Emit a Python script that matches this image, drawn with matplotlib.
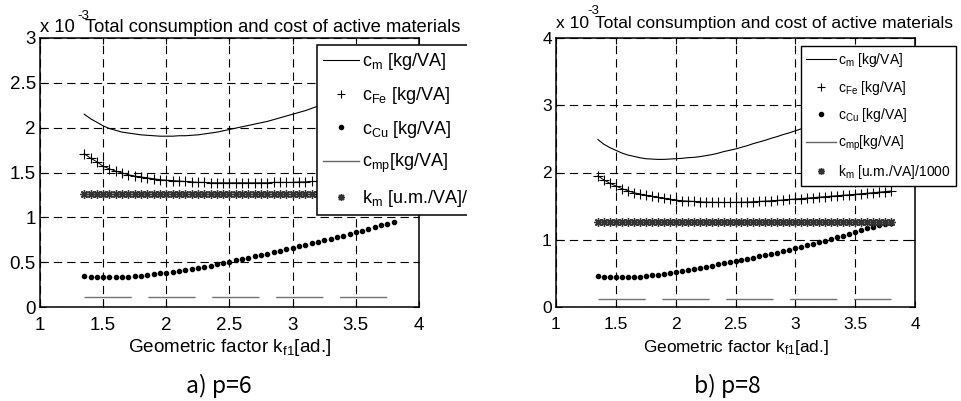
import matplotlib
matplotlib.use("Agg")
import matplotlib.pyplot as plt
from matplotlib.lines import Line2D
from matplotlib.patches import Rectangle

plt.rcParams['font.family'] = ['Liberation Sans', 'DejaVu Sans']
plt.rcParams['mathtext.fontset'] = 'custom'
plt.rcParams['mathtext.rm'] = 'Liberation Sans'
plt.rcParams['mathtext.it'] = 'Liberation Sans:italic'
plt.rcParams['mathtext.bf'] = 'Liberation Sans:bold'

# ---------------- data (values in 1e-3 units) ----------------
kf1 = [1.35, 1.40, 1.45, 1.50, 1.55, 1.60, 1.65, 1.70, 1.75, 1.80,
       1.85, 1.90, 1.95, 2.00, 2.05, 2.10, 2.15, 2.20, 2.25, 2.30,
       2.35, 2.40, 2.45, 2.50, 2.55, 2.60, 2.65, 2.70, 2.75, 2.80,
       2.85, 2.90, 2.95, 3.00, 3.05, 3.10, 3.15, 3.20, 3.25, 3.30,
       3.35, 3.40, 3.45, 3.50, 3.55, 3.60, 3.65, 3.70, 3.75, 3.80]

# p = 6
cm_p6 = [2.15, 2.10, 2.06, 2.02, 1.99, 1.97, 1.95, 1.94, 1.93, 1.92,
         1.915, 1.91, 1.905, 1.905, 1.905, 1.91, 1.91, 1.915, 1.92, 1.93,
         1.94, 1.95, 1.965, 1.98, 1.995, 2.01, 2.025, 2.04, 2.055, 2.07,
         2.09, 2.11, 2.13, 2.15, 2.17, 2.19, 2.215, 2.24, 2.26, 2.28,
         2.30, 2.33, 2.35, 2.37, 2.40, 2.42, 2.44, 2.47, 2.49, 2.52]
cfe_p6 = [1.71, 1.66, 1.62, 1.57, 1.54, 1.515, 1.495, 1.475, 1.46, 1.45,
          1.44, 1.43, 1.42, 1.415, 1.41, 1.405, 1.40, 1.395, 1.39, 1.39,
          1.385, 1.385, 1.385, 1.385, 1.385, 1.385, 1.385, 1.385, 1.385, 1.385,
          1.39, 1.39, 1.39, 1.39, 1.395, 1.395, 1.40, 1.40, 1.405, 1.41,
          1.41, 1.415, 1.42, 1.425, 1.43, 1.435, 1.44, 1.445, 1.45, 1.455]
ccu_p6 = [0.345, 0.335, 0.33, 0.33, 0.33, 0.33, 0.335, 0.34, 0.345, 0.35,
          0.36, 0.365, 0.375, 0.383, 0.39, 0.40, 0.41, 0.42, 0.435, 0.445,
          0.46, 0.475, 0.49, 0.505, 0.52, 0.535, 0.55, 0.565, 0.58, 0.595,
          0.61, 0.63, 0.645, 0.661, 0.678, 0.695, 0.71, 0.728, 0.745, 0.763,
          0.78, 0.797, 0.815, 0.833, 0.852, 0.872, 0.89, 0.91, 0.93, 0.951]
cmp_p6 = [0.11] * len(kf1)
km_p6 = [1.26] * len(kf1)

# p = 8
cm_p8 = [2.49, 2.42, 2.37, 2.33, 2.29, 2.26, 2.24, 2.22, 2.205, 2.20,
         2.195, 2.195, 2.20, 2.205, 2.21, 2.22, 2.225, 2.235, 2.25, 2.265,
         2.285, 2.31, 2.33, 2.35, 2.375, 2.40, 2.43, 2.455, 2.48, 2.51,
         2.535, 2.565, 2.59, 2.62, 2.65, 2.68, 2.71, 2.74, 2.77, 2.80,
         2.835, 2.87, 2.90, 2.935, 2.97, 3.005, 3.04, 3.075, 3.11, 3.145]
cfe_p8 = [1.95, 1.89, 1.84, 1.80, 1.76, 1.73, 1.70, 1.68, 1.66, 1.645,
          1.63, 1.615, 1.60, 1.59, 1.58, 1.575, 1.57, 1.565, 1.56, 1.558,
          1.556, 1.555, 1.555, 1.556, 1.558, 1.56, 1.565, 1.57, 1.575, 1.58,
          1.585, 1.592, 1.599, 1.606, 1.613, 1.62, 1.627, 1.634, 1.641, 1.648,
          1.655, 1.662, 1.669, 1.676, 1.684, 1.692, 1.70, 1.708, 1.716, 1.725]
ccu_p8 = [0.46, 0.445, 0.44, 0.44, 0.44, 0.44, 0.445, 0.45, 0.46, 0.47,
          0.48, 0.495, 0.51, 0.525, 0.54, 0.555, 0.57, 0.585, 0.60, 0.617,
          0.633, 0.65, 0.667, 0.684, 0.70, 0.718, 0.736, 0.754, 0.772, 0.79,
          0.81, 0.83, 0.851, 0.873, 0.895, 0.918, 0.941, 0.964, 0.988, 1.012,
          1.037, 1.062, 1.09, 1.12, 1.145, 1.17, 1.195, 1.22, 1.237, 1.254]
cmp_p8 = [0.12] * len(kf1)
km_p8 = [1.26] * len(kf1)

xticks = [1, 1.5, 2, 2.5, 3, 3.5, 4]
xticklabels = ['1', '1.5', '2', '2.5', '3', '3.5', '4']
yticks_p6 = [0, 0.5, 1, 1.5, 2, 2.5, 3]
yticklabels_p6 = ['0', '0.5', '1', '1.5', '2', '2.5', '3']
yticks_p8 = [0, 1, 2, 3, 4]
yticklabels_p8 = ['0', '1', '2', '3', '4']

labels_p6 = [r'c$_{\mathrm{m}}$ [kg/VA]', r'c$_{\mathrm{Fe}}$ [kg/VA]',
             r'c$_{\mathrm{Cu}}$ [kg/VA]', r'c$_{\mathrm{mp}}$[kg/VA]',
             r'k$_{\mathrm{m}}$ [u.m./VA]/1000']
labels_p8 = [r'c$_{\mathrm{m}}$ [kg/VA]', r'c$_{\mathrm{Fe}}$ [kg/VA]',
             r'c$_{\mathrm{Cu}}$ [kg/VA]', r'c$_{\mathrm{mp}}$[kg/VA]',
             r'k$_{\mathrm{m}}$ [u.m./VA]/1000']

title = 'Total consumption and cost of active materials'
xlabel = r'Geometric factor k$_{\mathrm{f1}}$[ad.]'

# ---------------- figure ----------------
W, H = 962, 401
fig = plt.figure(figsize=(W / 100, H / 100), dpi=100)
fig.patch.set_facecolor('white')


def fx(x):
    return x / W


def fy(y):
    return 1 - y / H


GRID_DASH = (0, (7.5, 4.5))
CMP_DASH = (0, (34, 12))
KM_MARKER = (8, 2, 0)


def panel(rect, ymax, yticks, yticklabels, cm, cfe, ccu, cmp_, km, tick_fs):
    ax = fig.add_axes(rect)
    ax.set_xlim(1, 4)
    ax.set_ylim(0, ymax)
    ax.set_xticks(xticks)
    ax.set_xticklabels(xticklabels, fontsize=tick_fs)
    ax.set_yticks(yticks)
    ax.set_yticklabels(yticklabels, fontsize=tick_fs)
    ax.tick_params(direction='in', top=True, right=True, length=4, width=0.8)
    ax.tick_params(axis='x', pad=7)
    ax.tick_params(axis='y', pad=3)
    for s in ax.spines.values():
        s.set_linewidth(1.1)
        s.set_color('black')
    ax.set_axisbelow(True)
    ax.grid(True, color='black', linestyle=GRID_DASH, linewidth=0.8)

    ax.plot(kf1, cmp_, color='0.45', linestyle=CMP_DASH, linewidth=1.0)
    ax.plot(kf1, ccu, linestyle='none', marker='o', markersize=3,
            color='black')
    ax.plot(kf1, km, linestyle='none', marker=KM_MARKER, markersize=6,
            markeredgewidth=1.0, color='0.2')
    ax.plot(kf1, cfe, color='black', linewidth=0.7, marker='+',
            markersize=6.5, markeredgewidth=0.8)
    ax.plot(kf1, cm, color='black', linewidth=0.8)
    return ax


def legend_handles():
    return [
        Line2D([], [], color='black', linewidth=0.8),
        Line2D([], [], color='black', linestyle='none', marker='+',
               markersize=6, markeredgewidth=0.8),
        Line2D([], [], color='black', linestyle='none', marker='o',
               markersize=3),
        Line2D([], [], color='0.4', linewidth=1.0),
        Line2D([], [], color='0.2', linestyle='none', marker=KM_MARKER,
               markersize=5, markeredgewidth=1.0),
    ]


def style_legend(leg, lw):
    frame = leg.get_frame()
    frame.set_edgecolor('black')
    frame.set_facecolor('white')
    frame.set_alpha(1.0)
    frame.set_linewidth(lw)


# a) p = 6
ax1 = panel([fx(40), fy(307), 379 / W, 269 / H], 3, yticks_p6, yticklabels_p6,
            cm_p6, cfe_p6, ccu_p6, cmp_p6, km_p6, 13.5)
leg1 = ax1.legend(legend_handles(), labels_p6, loc='upper left',
                  bbox_to_anchor=(fx(317), fy(45)),
                  bbox_transform=fig.transFigure, fontsize=13,
                  frameon=True, fancybox=False, framealpha=1.0,
                  borderaxespad=0, borderpad=0.35, labelspacing=0.7,
                  handlelength=1.95, handletextpad=0.2)
style_legend(leg1, 1.1)

# b) p = 8
ax2 = panel([fx(556), fy(307), 359 / W, 269 / H], 4, yticks_p8, yticklabels_p8,
            cm_p8, cfe_p8, ccu_p8, cmp_p8, km_p8, 12.5)
leg2 = ax2.legend(legend_handles(), labels_p8, loc='upper left',
                  bbox_to_anchor=(fx(801), fy(46)),
                  bbox_transform=fig.transFigure, fontsize=10,
                  frameon=True, fancybox=False, framealpha=1.0,
                  borderaxespad=0, borderpad=0.35, labelspacing=0.7,
                  handlelength=2.2, handletextpad=0.15)
style_legend(leg2, 1.0)

# the left panel is trimmed at its right edge
fig.add_artist(Rectangle((fx(467), fy(240)), 72 / W, (240 - 36) / H,
                         transform=fig.transFigure, facecolor='white',
                         edgecolor='none', zorder=10))

# exponent labels and titles
fig.text(fx(40), fy(32), 'x 10', fontsize=13.2, va='baseline')
fig.text(fx(77), fy(19), '-3', fontsize=9.5, va='baseline')
fig.text(fx(85), fy(32), title, fontsize=13.2, va='baseline')

fig.text(fx(556), fy(28), 'x 10', fontsize=12.6, va='baseline')
fig.text(fx(587), fy(14), '-3', fontsize=9.5, va='baseline')
fig.text(fx(595), fy(28), title, fontsize=12.6, va='baseline')

# axis labels
fig.text(fx(229.5), fy(352), xlabel, fontsize=13.6, ha='center',
         va='baseline')
fig.text(fx(735.5), fy(352), xlabel, fontsize=12.4, ha='center',
         va='baseline')

# panel captions
fig.text(fx(219), fy(393), 'a) p=6', fontsize=16.5, ha='center',
         va='baseline', family=['Noto Sans CJK KR', 'DejaVu Sans'])
fig.text(fx(727), fy(393), 'b) p=8', fontsize=16.5, ha='center',
         va='baseline', family=['Noto Sans CJK KR', 'DejaVu Sans'])

fig.savefig('out.png', dpi=100, facecolor='white')
